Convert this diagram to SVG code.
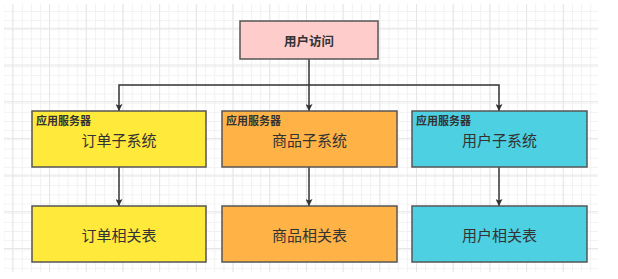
<svg xmlns="http://www.w3.org/2000/svg" width="618" height="279" viewBox="0 0 618 279">
<defs>
<pattern id="minor" x="3.4" y="1.8" width="9.17" height="9.17" patternUnits="userSpaceOnUse">
<path d="M0 0.5H9.17M0.5 0V9.17" fill="none" stroke="#f1f1f1" stroke-width="1"/>
</pattern>
<pattern id="major" x="12.3" y="27.8" width="36.7" height="36.7" patternUnits="userSpaceOnUse">
<path d="M0 0.5H36.7M0.5 0V36.7" fill="none" stroke="#e6e6e6" stroke-width="1"/>
</pattern>
<marker id="arr" viewBox="0 0 10 10" refX="10" refY="5" markerWidth="7" markerHeight="7" markerUnits="userSpaceOnUse" orient="auto">
<path d="M0 0L10 5L0 10L2 5Z" fill="#333"/>
</marker>
</defs>
<style>
.box{stroke:#555;stroke-width:1.5}
.lbl{font-family:"Noto Sans CJK SC","Noto Sans",sans-serif;fill:#333;text-anchor:middle}
.main{font-size:15px}
.tag{font-family:"Noto Sans CJK SC","Noto Sans",sans-serif;font-size:11px;font-weight:bold;fill:#333}
.con{fill:none;stroke:#333;stroke-width:1.5;marker-end:url(#arr)}
</style>
<rect width="618" height="279" fill="#ffffff"/>
<rect x="4" y="4" width="594" height="268" fill="url(#minor)"/>
<rect x="4" y="4" width="594" height="268" fill="url(#major)"/>
<g id="connectors">
<path class="con" d="M309 59V111"/>
<path class="con" d="M309 85H119V111"/>
<path class="con" d="M309 85H499V111"/>
<path class="con" d="M119 167V206"/>
<path class="con" d="M309 167V206"/>
<path class="con" d="M499 167V206"/>
</g>
<g id="user-access">
<rect class="box" x="240" y="21" width="138" height="38" fill="#FFCCCC"/>
<text class="lbl" x="309" y="45.5" font-size="12.5" font-weight="bold">用户访问</text>
</g>
<g id="order-system">
<rect class="box" x="32" y="111" width="174" height="56" fill="#FFE93B"/>
<text class="tag" x="36" y="125">应用服务器</text>
<text class="lbl main" x="119" y="146">订单子系统</text>
</g>
<g id="product-system">
<rect class="box" x="222" y="111" width="175" height="56" fill="#FFB347"/>
<text class="tag" x="226" y="125">应用服务器</text>
<text class="lbl main" x="309.5" y="146">商品子系统</text>
</g>
<g id="user-system">
<rect class="box" x="412" y="111" width="175" height="56" fill="#4DD0E1"/>
<text class="tag" x="416" y="125">应用服务器</text>
<text class="lbl main" x="499.5" y="146">用户子系统</text>
</g>
<g id="order-tables">
<rect class="box" x="32" y="206" width="174" height="56" fill="#FFE93B"/>
<text class="lbl main" x="119" y="241">订单相关表</text>
</g>
<g id="product-tables">
<rect class="box" x="222" y="206" width="175" height="56" fill="#FFB347"/>
<text class="lbl main" x="309.5" y="241">商品相关表</text>
</g>
<g id="user-tables">
<rect class="box" x="412" y="206" width="175" height="56" fill="#4DD0E1"/>
<text class="lbl main" x="499.5" y="241">用户相关表</text>
</g>
</svg>
